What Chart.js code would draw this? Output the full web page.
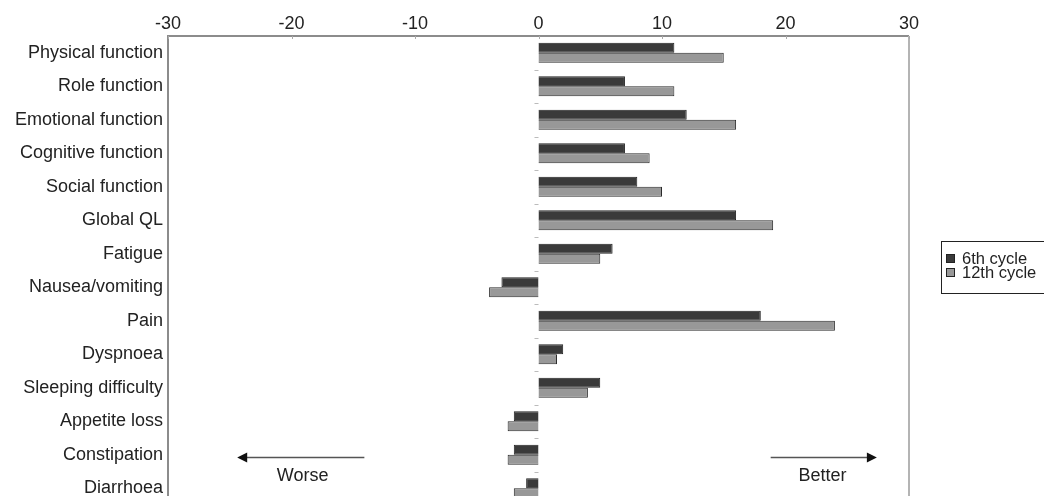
<!DOCTYPE html>
<html>
<head>
<meta charset="utf-8">
<script src="https://cdn.jsdelivr.net/npm/chart.js@4.4.0/dist/chart.umd.min.js"></script>
<style>
  html, body { margin: 0; padding: 0; background: #fff; overflow: hidden; }
  #wrap { position: relative; width: 1044px; height: 506px; }
</style>
</head>
<body>
<div id="wrap"><canvas id="qol-chart"></canvas></div>
<script>
// Chart data
const categories = [
    'Physical function', 'Role function', 'Emotional function', 'Cognitive function',
    'Social function', 'Global QL', 'Fatigue', 'Nausea/vomiting', 'Pain', 'Dyspnoea',
    'Sleeping difficulty', 'Appetite loss', 'Constipation', 'Diarrhoea'
];
const cycle6 = [11, 7, 12, 7, 8, 16, 6, -3, 18, 2, 5, -2, -2, -1];
const cycle12 = [15, 11, 16, 9, 10, 19, 5, -4, 24, 1.5, 4, -2.5, -2.5, -2];
const xTicks = [-30, -20, -10, 0, 10, 20, 30];
const seriesNames = ['6th cycle', '12th cycle'];

const FONT = '"Liberation Sans", Arial, sans-serif';

/**
 * Frame, zero axis ticks, direction arrows and legend
 */
const decorPlugin = {
    id: 'decor',
    afterDatasetsDraw: function(chart) {
        const ctx = chart.ctx;
        const area = chart.chartArea;
        const xs = chart.scales.x;
        const ys = chart.scales.y;
        const x0 = xs.getPixelForValue(0);

        ctx.save();

        // plot frame
        ctx.lineWidth = 2;
        ctx.strokeStyle = '#8c8c8c';
        ctx.beginPath();
        ctx.moveTo(area.left, area.bottom);
        ctx.lineTo(area.left, area.top);
        ctx.lineTo(area.right, area.top);
        ctx.stroke();
        ctx.strokeStyle = '#b4b4b4';
        ctx.beginPath();
        ctx.moveTo(area.right, area.top);
        ctx.lineTo(area.right, area.bottom);
        ctx.stroke();

        // x tick marks under the top axis
        ctx.lineWidth = 1;
        ctx.strokeStyle = '#aaa';
        xTicks.forEach(v => {
            const px = Math.round(xs.getPixelForValue(v)) + 0.5;
            ctx.beginPath();
            ctx.moveTo(px, area.top);
            ctx.lineTo(px, area.top + 3);
            ctx.stroke();
        });

        // category ticks on the zero line
        const step = (area.bottom - area.top) / categories.length;
        ctx.strokeStyle = '#bbb';
        for (let i = 1; i < categories.length; i++) {
            const py = Math.round(area.top + i * step) + 0.5;
            ctx.beginPath();
            ctx.moveTo(x0 - 4, py);
            ctx.lineTo(x0, py);
            ctx.stroke();
        }

        // Worse / Better arrows
        const arrowY = Math.round(ys.getPixelForValue(12) + 2) + 0.5;
        const textY = ys.getPixelForValue(12) + 21;
        const drawArrow = (from, to) => {
            const a = xs.getPixelForValue(from);
            const b = xs.getPixelForValue(to);
            const dir = Math.sign(b - a);
            ctx.strokeStyle = '#555';
            ctx.fillStyle = '#111';
            ctx.lineWidth = 1.5;
            ctx.beginPath();
            ctx.moveTo(a, arrowY);
            ctx.lineTo(b - dir * 8, arrowY);
            ctx.stroke();
            ctx.beginPath();
            ctx.moveTo(b, arrowY);
            ctx.lineTo(b - dir * 10, arrowY - 5);
            ctx.lineTo(b - dir * 10, arrowY + 5);
            ctx.closePath();
            ctx.fill();
        };
        drawArrow(-14.1, -24.4);
        drawArrow(18.8, 27.4);

        ctx.fillStyle = '#222';
        ctx.font = '18px ' + FONT;
        ctx.textAlign = 'center';
        ctx.textBaseline = 'middle';
        ctx.fillText('Worse', xs.getPixelForValue(-19.1), textY);
        ctx.fillText('Better', xs.getPixelForValue(23.0), textY);

        // legend
        const lx = 941, ly = 241, lh = 52;
        ctx.strokeStyle = '#222';
        ctx.lineWidth = 1;
        ctx.strokeRect(lx + 0.5, ly + 0.5, 200, lh);
        ctx.textAlign = 'left';
        ctx.font = '16.5px ' + FONT;
        chart.data.datasets.forEach((ds, i) => {
            const cy = ly + 17.5 + i * 14;
            ctx.fillStyle = ds.backgroundColor;
            ctx.fillRect(lx + 5, cy - 4.5, 9, 9);
            ctx.strokeStyle = '#222';
            ctx.strokeRect(lx + 5.5, cy - 4, 8, 8);
            ctx.fillStyle = '#222';
            ctx.fillText(ds.label, lx + 21, cy + 1);
        });

        ctx.restore();
    }
};

const ctx = document.getElementById('qol-chart');

new Chart(ctx, {
    type: 'bar',
    data: {
        labels: categories,
        datasets: [{
            label: seriesNames[0],
            data: cycle6,
            backgroundColor: '#3a3a3a',
            borderColor: '#222',
            borderWidth: 1
        }, {
            label: seriesNames[1],
            data: cycle12,
            backgroundColor: '#989898',
            borderColor: '#2a2a2a',
            borderWidth: 1
        }]
    },
    options: {
        indexAxis: 'y',
        responsive: true,
        maintainAspectRatio: false,
        animation: false,
        layout: {
            autoPadding: false,
            padding: { top: 0, right: 135, bottom: 1, left: 0 }
        },
        datasets: {
            bar: {
                categoryPercentage: 0.6,
                barPercentage: 1.0
            }
        },
        plugins: {
            legend: { display: false },
            tooltip: { enabled: false }
        },
        scales: {
            x: {
                position: 'top',
                min: -30,
                max: 30,
                afterBuildTicks: axis => {
                    axis.ticks = xTicks.map(v => ({ value: v }));
                },
                afterFit: axis => { axis.height = 36; },
                grid: { display: false, drawTicks: false },
                border: { display: false },
                ticks: {
                    color: '#222',
                    padding: 1,
                    maxRotation: 0,
                    font: { family: FONT, size: 18 }
                }
            },
            y: {
                afterFit: axis => {
                    axis.width = 168;
                    // labels sit well inside the axis, drop the end padding
                    axis.paddingTop = 0;
                    axis.paddingBottom = 0;
                },
                grid: { display: false, drawTicks: false },
                border: { display: false },
                ticks: {
                    color: '#222',
                    padding: 5,
                    autoSkip: false,
                    font: { family: FONT, size: 18 }
                }
            }
        }
    },
    plugins: [decorPlugin]
});
</script>
</body>
</html>
